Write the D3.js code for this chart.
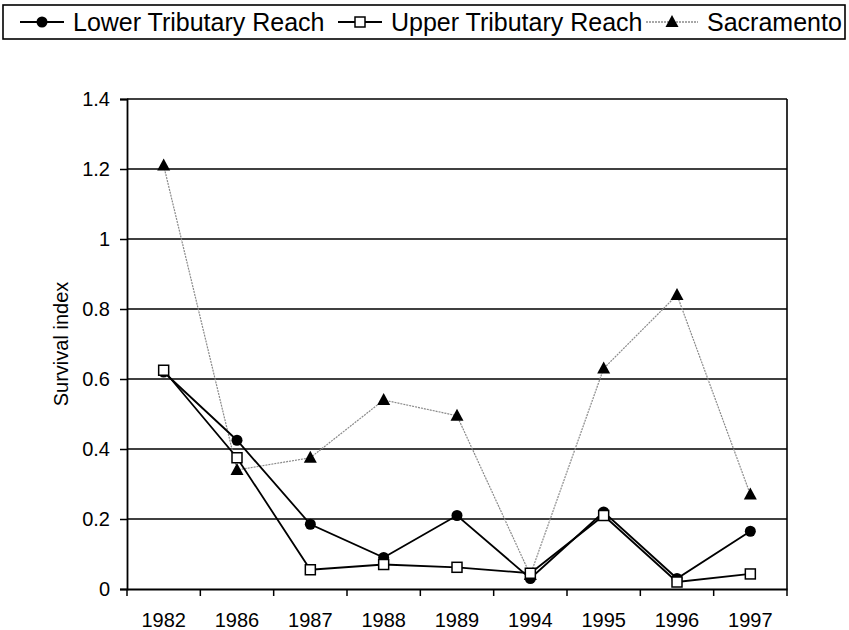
<!DOCTYPE html>
<html>
<head>
<meta charset="utf-8">
<script src="https://cdn.jsdelivr.net/npm/d3@7"></script>
<style>
  body { margin: 0; background: #fff; }
  svg { display: block; font-family: "Liberation Sans", Arial, sans-serif; }
</style>
</head>
<body>
<div id="chart"></div>
<script>
// data
const years = ['1982', '1986', '1987', '1988', '1989', '1994', '1995', '1996', '1997'];
const lowerReach = [0.62, 0.425, 0.185, 0.09, 0.21, 0.03, 0.22, 0.03, 0.165];
const upperReach = [0.625, 0.375, 0.055, 0.07, 0.062, 0.045, 0.21, 0.02, 0.043];
const sacramento = [1.21, 0.34, 0.375, 0.54, 0.495, 0.04, 0.63, 0.84, 0.27];
const yTicks = [0, 0.2, 0.4, 0.6, 0.8, 1, 1.2, 1.4];

const series = [
  { name: 'Lower Tributary Reach', values: lowerReach, marker: 'circle' },
  { name: 'Upper Tributary Reach', values: upperReach, marker: 'square' },
  { name: 'Sacramento', values: sacramento, marker: 'triangle' }
];

const width = 849;
const height = 630;
const marginTop = 99;
const marginLeft = 127;
const marginRight = 62;
const marginBottom = 41;

const $svg = d3.select('#chart').append('svg')
  .attr('width', width)
  .attr('height', height);

const x = d3.scaleBand()
  .domain(years)
  .range([marginLeft, width - marginRight]);

const y = d3.scaleLinear()
  .domain([0, 1.4])
  .range([height - marginBottom, marginTop]);

// gridlines
$svg.append('g')
  .selectAll('line')
  .data(yTicks.filter(d => d > 0))
  .join('line')
  .attr('x1', marginLeft)
  .attr('x2', width - marginRight)
  .attr('y1', d => y(d))
  .attr('y2', d => y(d))
  .attr('stroke', '#000')
  .attr('stroke-width', 1.6);

// right border
$svg.append('line')
  .attr('x1', width - marginRight)
  .attr('x2', width - marginRight)
  .attr('y1', y(1.4))
  .attr('y2', y(0))
  .attr('stroke', '#000')
  .attr('stroke-width', 1.6);

// y axis
const $yAxis = $svg.append('g')
  .attr('transform', `translate(${marginLeft},0)`)
  .call(d3.axisLeft(y).tickValues(yTicks).tickSize(7).tickPadding(10).tickFormat(d3.format('~g')));
$yAxis.select('.domain').attr('stroke-width', 1.8);
$yAxis.selectAll('.tick line').attr('stroke-width', 1.5);
$yAxis.selectAll('text').attr('font-size', 20).attr('font-family', '"Liberation Sans", Arial, sans-serif').attr('fill', '#000');

// x axis: labels at band centres, ticks at band edges
const $xAxis = $svg.append('g')
  .attr('transform', `translate(0,${y(0)})`)
  .call(d3.axisBottom(x).tickSize(0).tickPadding(24));
$xAxis.select('.domain').attr('stroke-width', 1.8);
$xAxis.selectAll('text').attr('font-size', 20).attr('font-family', '"Liberation Sans", Arial, sans-serif').attr('fill', '#000');
$xAxis.selectAll('.edge')
  .data(years.map(d => x(d)).concat([x.range()[1]]))
  .join('line')
  .attr('class', 'edge')
  .attr('x1', d => d)
  .attr('x2', d => d)
  .attr('y1', 0)
  .attr('y2', 7)
  .attr('stroke', '#000')
  .attr('stroke-width', 1.5);

$svg.append('text')
  .attr('transform', `translate(68,${(y(0) + y(1.4)) / 2}) rotate(-90)`)
  .attr('text-anchor', 'middle')
  .attr('font-size', 20)
  .text('Survival index');

const cx = d => x(d) + x.bandwidth() / 2;

function drawMarker(sel, type) {
  if (type === 'circle') {
    sel.append('circle').attr('r', 5.5).attr('fill', '#000');
  } else if (type === 'square') {
    sel.append('rect').attr('x', -5).attr('y', -5).attr('width', 10).attr('height', 10)
      .attr('fill', '#fff').attr('stroke', '#000').attr('stroke-width', 1.5);
  } else {
    sel.append('path').attr('d', 'M0,-7L6.5,5L-6.5,5Z').attr('fill', '#000');
  }
}

const line = d3.line()
  .x((d, i) => cx(years[i]))
  .y(d => y(d));

// draw Sacramento first so the tributary lines sit on top
[series[2], series[0], series[1]].forEach(s => {
  const isSac = s.marker === 'triangle';
  $svg.append('path')
    .datum(s.values)
    .attr('d', line)
    .attr('fill', 'none')
    .attr('stroke', isSac ? '#8a8a8a' : '#000')
    .attr('stroke-width', isSac ? 1.2 : 1.8)
    .attr('stroke-dasharray', isSac ? '2,1' : null);
});

[series[2], series[0], series[1]].forEach(s => {
  $svg.append('g')
    .selectAll('g')
    .data(s.values)
    .join('g')
    .attr('transform', (d, i) => `translate(${cx(years[i])},${y(d)})`)
    .each(function () { drawMarker(d3.select(this), s.marker); });
});

// legend
const legendX = [20, 338, 646];
const $legend = $svg.append('g');
$legend.append('rect')
  .attr('x', 3).attr('y', 5)
  .attr('width', 842).attr('height', 34)
  .attr('fill', '#fff').attr('stroke', '#000').attr('stroke-width', 1.6);

series.forEach((s, i) => {
  const isSac = s.marker === 'triangle';
  const $item = $legend.append('g').attr('transform', `translate(${legendX[i]},22)`);
  $item.append('line')
    .attr('x1', 0).attr('x2', isSac ? 52 : 44)
    .attr('stroke', isSac ? '#8a8a8a' : '#000')
    .attr('stroke-width', isSac ? 1.5 : 1.8)
    .attr('stroke-dasharray', isSac ? '2,1' : null);
  const $m = $item.append('g').attr('transform', `translate(${isSac ? 26 : 22},0)`);
  drawMarker($m, s.marker);
  $item.append('text')
    .attr('x', isSac ? 61 : 53)
    .attr('y', 8.5)
    .attr('font-size', 25)
    .text(s.name);
});
</script>
</body>
</html>
